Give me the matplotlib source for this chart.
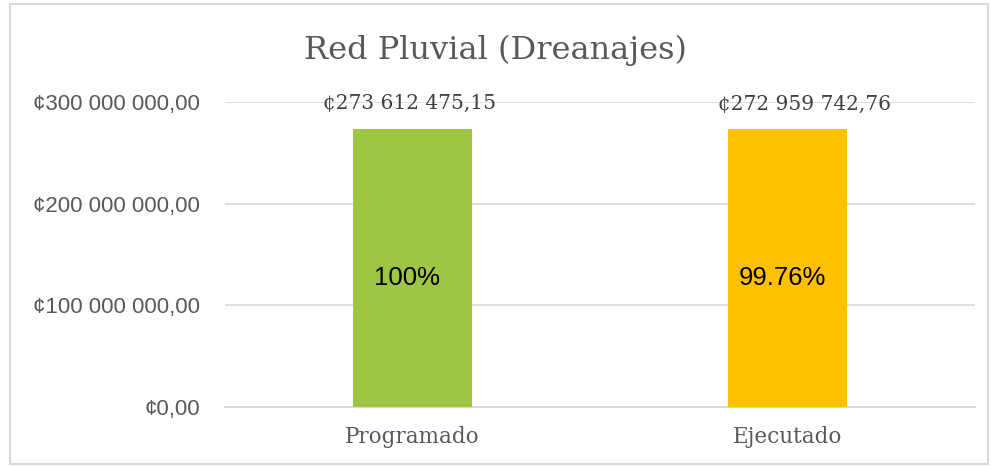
import matplotlib.pyplot as plt
from matplotlib.patches import Rectangle
from matplotlib.ticker import FuncFormatter

categories = ['Programado', 'Ejecutado']
values = [273612475.15, 272959742.76]
percent_labels = ['100%', '99.76%']
bar_colors = ['#9FC544', '#FFC000']
yticks = [0, 100000000, 200000000, 300000000]


def colones(v, pos=None):
    entero, dec = f'{v:,.2f}'.split('.')
    return '¢' + entero.replace(',', ' ') + ',' + dec


fig = plt.figure(figsize=(9.91, 4.66), dpi=100)
ax = fig.add_axes([225 / 991, (466 - 407) / 466, 750 / 991, 305 / 466])

x = range(len(categories))
bars = ax.bar(x, values, width=0.315, color=bar_colors, zorder=3)

ax.set_xlim(-0.5, 1.5)
ax.set_ylim(0, 300000000)
ax.set_yticks(yticks)
ax.yaxis.set_major_formatter(FuncFormatter(colones))
ax.set_xticks(list(x))
ax.set_xticklabels(categories, family='DejaVu Serif', fontsize=15.5, color='#595959')
ax.tick_params(axis='y', length=0, pad=18, labelsize=16, labelcolor='#595959')
ax.tick_params(axis='x', length=0, pad=14)
for lab in ax.get_yticklabels():
    lab.set_family('Liberation Sans')

ax.grid(axis='y', color='#D9D9D9', linewidth=1.2, zorder=0)
for s in ['top', 'right', 'left']:
    ax.spines[s].set_visible(False)
ax.spines['bottom'].set_color('#D9D9D9')
ax.spines['bottom'].set_linewidth(1.5)

offsets = [-2, 12]
for b, v, p, dx in zip(bars, values, percent_labels, offsets):
    cx = b.get_x() + b.get_width() / 2
    ax.annotate(colones(v), (cx, v), xytext=(dx, 18), textcoords='offset points',
                ha='center', va='center', family='DejaVu Serif', fontsize=14.5,
                color='#404040')
    ax.annotate(p, (cx, v / 2), xytext=(-4, -7), textcoords='offset points',
                ha='center', va='center', family='Liberation Sans', fontsize=18.5,
                color='black')

fig.text(0.5, 1 - 50 / 466, 'Red Pluvial (Dreanajes)', ha='center', va='center',
         family='DejaVu Serif', fontsize=23, color='#595959')

fig.patches.append(Rectangle((10 / 991, 0.005), 978 / 991, 1 - 4 / 466 - 0.005,
                             transform=fig.transFigure, fill=False,
                             edgecolor='#D9D9D9', linewidth=1.5))

fig.savefig('out.png', dpi=100)
